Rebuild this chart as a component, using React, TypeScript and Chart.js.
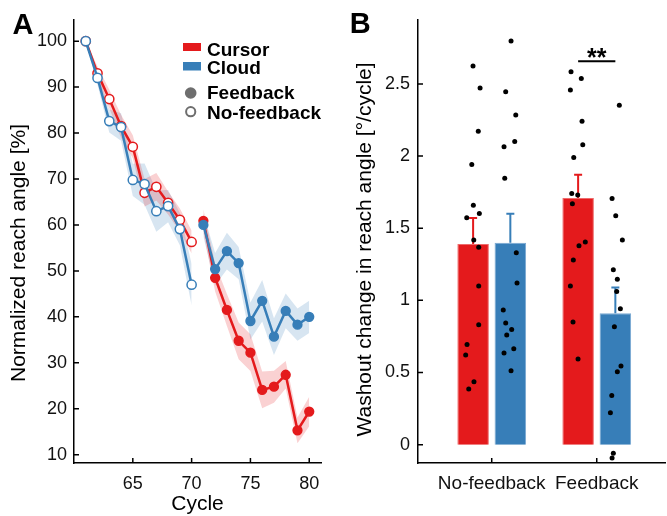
import React, { useEffect, useRef } from 'react';
import { Chart, registerables } from 'chart.js';

Chart.register(...registerables);

const FONT = '"Liberation Sans", Arial, Helvetica, sans-serif';
const RED = '#E41A1C';
const BLUE = '#377EB8';
const RED_BAND = 'rgba(228,26,28,0.2)';
const BLUE_BAND = 'rgba(55,126,184,0.2)';
const RED_EDGE = '#EE6A6B';
const BLUE_EDGE = '#79A8D2';

// ---------- Panel A data ----------
const cyclesNoFeedback = [61, 62, 63, 64, 65, 66, 67, 68, 69, 70];
const cyclesFeedback = [71, 72, 73, 74, 75, 76, 77, 78, 79, 80];
const cursorNoFeedback = [100, 93.0, 87.4, 81.5, 77.0, 67.0, 68.3, 64.8, 61.1, 56.3];
const cloudNoFeedback = [100, 92.0, 82.6, 81.3, 69.8, 68.9, 63.0, 64.1, 59.1, 47.0];
const cursorFeedback = [60.9, 48.5, 41.5, 34.8, 32.2, 24.1, 24.8, 27.4, 15.3, 19.4];
const cloudFeedback = [60.0, 50.4, 54.3, 51.7, 39.1, 43.5, 35.7, 41.3, 38.3, 40.0];
const cursorNoFeedbackSem = [0, 1.5, 2, 2.5, 2.5, 3, 3, 2.5, 2.5, 2.5];
const cloudNoFeedbackSem = [0, 1.5, 2.5, 3, 3.5, 4.5, 4.5, 3.5, 3.5, 4.5];
const cursorFeedbackSem = [2.5, 3, 3.5, 4, 4, 4, 3.5, 3, 2.8, 3.2];
const cloudFeedbackSem = [2.5, 3.5, 4, 3.5, 4, 4.5, 4, 3.8, 3.5, 3.5];
const cycleTicks = [65, 70, 75, 80];
const reachTicks = [10, 20, 30, 40, 50, 60, 70, 80, 90, 100];
const cursorLabel = 'Cursor';
const cloudLabel = 'Cloud';
const markerLabels = ['Feedback', 'No-feedback'];

// ---------- Panel B data ----------
const conditions = ['No-feedback', 'Feedback'];
const cursorWashout = [1.39, 1.71];
const cursorWashoutSem = [0.18, 0.16];
const cloudWashout = [1.40, 0.91];
const cloudWashoutSem = [0.2, 0.18];
const washoutTicks = [0, 0.5, 1, 1.5, 2, 2.5];
const cursorNoFbDots = [2.625, 2.472, 2.172, 1.941, 1.66, 1.572, 1.602, 1.418, 1.369, 1.099, 0.831, 0.695, 0.621, 0.436, 0.386];
const cursorNoFbJitter = [-0.178, -0.111, -0.128, -0.19, -0.175, -0.238, -0.118, -0.171, -0.124, -0.124, -0.124, -0.235, -0.248, -0.169, -0.219];
const cloudNoFbDots = [2.798, 2.445, 2.285, 2.064, 2.101, 1.847, 1.33, 1.12, 0.933, 0.843, 0.799, 0.76, 0.635, 0.665, 0.512];
const cloudNoFbJitter = [0.184, 0.133, 0.229, 0.117, 0.219, 0.124, 0.234, 0.241, 0.11, 0.133, 0.19, 0.143, 0.117, 0.21, 0.184];
const cursorFbDots = [2.585, 2.537, 2.458, 2.242, 2.078, 1.99, 1.74, 1.731, 1.669, 1.404, 1.378, 1.279, 1.099, 0.85, 0.593];
const cursorFbJitter = [-0.245, -0.147, -0.251, -0.14, -0.133, -0.219, -0.238, -0.181, -0.232, -0.109, -0.169, -0.223, -0.251, -0.226, -0.178];
const cloudFbDots = [2.352, 1.706, 1.586, 1.418, 1.212, 1.147, 1.062, 0.942, 0.817, 0.545, 0.506, 0.341, 0.222, -0.06, -0.092];
const cloudFbJitter = [0.215, 0.146, 0.181, 0.244, 0.158, 0.196, 0.19, 0.225, 0.168, 0.231, 0.196, 0.143, 0.13, 0.158, 0.146];
const significanceLevel = 2.657;
const significanceText = '**';

const xTitleA = 'Cycle';
const yTitleA = 'Normalized reach angle [%]';
const yTitleB = 'Washout change in reach angle [°/cycle]';

function drawInwardTicks(chart: any) {
  const { ctx, chartArea } = chart;
  const sx = chart.scales.x;
  const sy = chart.scales.y;
  ctx.save();
  ctx.strokeStyle = '#000';
  ctx.lineWidth = 1.5;
  ctx.beginPath();
  sx.ticks.forEach((t: any) => {
    const p = sx.getPixelForValue(t.value);
    ctx.moveTo(p, chartArea.bottom);
    ctx.lineTo(p, chartArea.bottom - 5);
  });
  sy.ticks.forEach((t: any) => {
    const p = sy.getPixelForValue(t.value);
    ctx.moveTo(chartArea.left, p);
    ctx.lineTo(chartArea.left + 5, p);
  });
  ctx.stroke();
  ctx.restore();
}

function drawRotated(ctx: any, text: string, x: number, y: number, size: number) {
  ctx.save();
  ctx.translate(x, y);
  ctx.rotate(-Math.PI / 2);
  ctx.font = `${size}px ${FONT}`;
  ctx.fillStyle = '#000';
  ctx.textAlign = 'center';
  ctx.textBaseline = 'middle';
  ctx.fillText(text, 0, 0);
  ctx.restore();
}

const panelAPlugin = {
  id: 'panelADecor',
  afterDraw(chart: any) {
    const { ctx, chartArea } = chart;
    drawInwardTicks(chart);
    ctx.save();
    ctx.fillStyle = '#000';
    ctx.font = `bold 29px ${FONT}`;
    ctx.textAlign = 'left';
    ctx.textBaseline = 'alphabetic';
    ctx.fillText('A', 12.5, 34.3);
    ctx.font = `21px ${FONT}`;
    ctx.textAlign = 'center';
    ctx.textBaseline = 'middle';
    ctx.fillText(xTitleA, (chartArea.left + chartArea.right) / 2, 504);
    ctx.restore();
    drawRotated(ctx, yTitleA, 19.7, 253, 21);
    // legend
    ctx.save();
    ctx.font = `bold 19px ${FONT}`;
    ctx.textAlign = 'left';
    ctx.textBaseline = 'alphabetic';
    ctx.fillStyle = RED;
    ctx.fillRect(183, 43, 18, 8);
    ctx.fillStyle = BLUE;
    ctx.fillRect(183, 62, 18, 8.5);
    ctx.fillStyle = '#000';
    ctx.fillText(cursorLabel, 207, 55.7);
    ctx.fillText(cloudLabel, 207, 74);
    ctx.fillStyle = '#6e6e6e';
    ctx.beginPath();
    ctx.arc(190.7, 93, 5.8, 0, Math.PI * 2);
    ctx.fill();
    ctx.beginPath();
    ctx.arc(190.7, 111.7, 4.6, 0, Math.PI * 2);
    ctx.fillStyle = '#fff';
    ctx.fill();
    ctx.lineWidth = 2;
    ctx.strokeStyle = '#6e6e6e';
    ctx.stroke();
    ctx.fillStyle = '#000';
    ctx.fillText(markerLabels[0], 207, 99.3);
    ctx.fillText(markerLabels[1], 207, 119.3);
    ctx.restore();
  },
};

const panelBPlugin = {
  id: 'panelBDecor',
  afterDatasetDraw(chart: any, args: any) {
    if (args.index > 1) return;
    const sems = args.index === 0 ? cursorWashoutSem : cloudWashoutSem;
    const means = args.index === 0 ? cursorWashout : cloudWashout;
    const color = args.index === 0 ? RED : BLUE;
    const sy = chart.scales.y;
    const { ctx } = chart;
    ctx.save();
    ctx.strokeStyle = color;
    ctx.lineWidth = 2;
    args.meta.data.forEach((bar: any, i: number) => {
      const top = sy.getPixelForValue(means[i] + sems[i]);
      ctx.beginPath();
      ctx.moveTo(bar.x, bar.y);
      ctx.lineTo(bar.x, top);
      ctx.moveTo(bar.x - 4, top);
      ctx.lineTo(bar.x + 4, top);
      ctx.stroke();
    });
    ctx.restore();
  },
  afterDraw(chart: any) {
    const { ctx } = chart;
    drawInwardTicks(chart);
    ctx.save();
    ctx.fillStyle = '#000';
    ctx.font = `bold 29px ${FONT}`;
    ctx.textAlign = 'left';
    ctx.textBaseline = 'alphabetic';
    ctx.fillText('B', 9.7, 33.3);
    const sy = chart.scales.y;
    const x0 = chart.getDatasetMeta(0).data[1].x;
    const x1 = chart.getDatasetMeta(1).data[1].x;
    const y = sy.getPixelForValue(significanceLevel);
    ctx.strokeStyle = '#000';
    ctx.lineWidth = 2;
    ctx.beginPath();
    ctx.moveTo(x0, y);
    ctx.lineTo(x1, y);
    ctx.stroke();
    ctx.font = `bold 25px ${FONT}`;
    ctx.textAlign = 'center';
    ctx.fillText(significanceText, (x0 + x1) / 2, 66);
    ctx.restore();
    drawRotated(ctx, yTitleB, 25.3, 249.5, 21);
  },
};

function axisBase(ticks: number[], size: number, padding: number) {
  return {
    type: 'linear' as const,
    offset: false,
    grid: { display: false, drawTicks: false },
    border: { display: true, color: '#000', width: 1.5 },
    ticks: {
      font: { size, family: FONT },
      color: '#111',
      padding,
      autoSkip: false,
      maxRotation: 0,
      callback: (v: any) => String(v),
    },
    afterBuildTicks: (s: any) => {
      s.ticks = ticks.map((v) => ({ value: v }));
    },
  };
}

function pts(xs: number[], ys: number[]) {
  return xs.map((x, i) => ({ x, y: ys[i] }));
}

function band(xs: number[], mean: number[], sem: number[], color: string) {
  return [
    {
      data: xs.map((x, i) => ({ x, y: mean[i] + sem[i] })),
      borderWidth: 0,
      pointRadius: 0,
      fill: false,
      order: 5,
    },
    {
      data: xs.map((x, i) => ({ x, y: mean[i] - sem[i] })),
      borderWidth: 0,
      pointRadius: 0,
      fill: '-1',
      backgroundColor: color,
      order: 5,
    },
  ];
}

function line(xs: number[], ys: number[], color: string, open: boolean, order: number) {
  return {
    data: pts(xs, ys),
    borderColor: color,
    borderWidth: 2.5,
    pointRadius: open ? 4.6 : 4.4,
    pointBorderWidth: 1.5,
    pointBackgroundColor: open ? '#fff' : color,
    pointBorderColor: color,
    fill: false,
    order,
  };
}

function dots(cat: number, jitter: number[], ys: number[]) {
  return {
    type: 'scatter' as const,
    data: ys.map((y, i) => ({ x: cat + jitter[i], y })),
    pointRadius: 2.5,
    pointBorderWidth: 0,
    pointBackgroundColor: '#000',
    showLine: false,
    order: 0,
  };
}

export default function App() {
  const refA = useRef<HTMLCanvasElement>(null);
  const refB = useRef<HTMLCanvasElement>(null);

  useEffect(() => {
    const chartA = new Chart(refA.current as HTMLCanvasElement, {
      type: 'line',
      data: {
        datasets: [
          line(cyclesNoFeedback, cloudNoFeedback, BLUE, true, 0),
          line(cyclesFeedback, cloudFeedback, BLUE, false, 0),
          line(cyclesNoFeedback, cursorNoFeedback, RED, true, 1),
          line(cyclesFeedback, cursorFeedback, RED, false, 1),
          ...band(cyclesNoFeedback, cursorNoFeedback, cursorNoFeedbackSem, RED_BAND),
          ...band(cyclesNoFeedback, cloudNoFeedback, cloudNoFeedbackSem, BLUE_BAND),
          ...band(cyclesFeedback, cursorFeedback, cursorFeedbackSem, RED_BAND),
          ...band(cyclesFeedback, cloudFeedback, cloudFeedbackSem, BLUE_BAND),
        ] as any,
      },
      options: {
        animation: false,
        responsive: false,
        events: [],
        layout: { padding: { top: 20, right: 19, bottom: 0, left: 0 }, autoPadding: false },
        plugins: { legend: { display: false }, tooltip: { enabled: false } },
        scales: {
          x: { ...axisBase(cycleTicks, 18, 10), min: 60, max: 81, afterFit: (s: any) => { s.height = 53; } },
          y: { ...axisBase(reachTicks, 18, 7), min: 8.2, max: 104.6, afterFit: (s: any) => { s.width = 74; } },
        } as any,
      },
      plugins: [panelAPlugin],
    });

    const chartB = new Chart(refB.current as HTMLCanvasElement, {
      type: 'bar',
      data: {
        datasets: [
          {
            type: 'bar',
            label: cursorLabel,
            data: pts([0, 1], cursorWashout),
            backgroundColor: RED,
            borderColor: RED_EDGE,
            borderWidth: 1,
            categoryPercentage: 0.709,
            barPercentage: 0.847,
            order: 1,
          },
          {
            type: 'bar',
            label: cloudLabel,
            data: pts([0, 1], cloudWashout),
            backgroundColor: BLUE,
            borderColor: BLUE_EDGE,
            borderWidth: 1,
            categoryPercentage: 0.709,
            barPercentage: 0.847,
            order: 1,
          },
          dots(0, cursorNoFbJitter, cursorNoFbDots),
          dots(0, cloudNoFbJitter, cloudNoFbDots),
          dots(1, cursorFbJitter, cursorFbDots),
          dots(1, cloudFbJitter, cloudFbDots),
        ] as any,
      },
      options: {
        animation: false,
        responsive: false,
        events: [],
        layout: { padding: { top: 20, right: 2, bottom: 0, left: 0 }, autoPadding: false },
        plugins: { legend: { display: false }, tooltip: { enabled: false } },
        scales: {
          x: {
            ...axisBase([0, 1], 19, 9),
            min: -0.702,
            max: 1.65,
            ticks: {
              font: { size: 19, family: FONT },
              color: '#111',
              padding: 9,
              autoSkip: false,
              maxRotation: 0,
              callback: (v: any) => conditions[Math.round(Number(v))] ?? '',
            },
            afterFit: (s: any) => { s.height = 53; },
          },
          y: { ...axisBase(washoutTicks, 18, 8), min: -0.127, max: 2.943, afterFit: (s: any) => { s.width = 78; } },
        } as any,
      },
      plugins: [panelBPlugin],
    });

    return () => {
      chartA.destroy();
      chartB.destroy();
    };
  }, []);

  return (
    <div style={{ position: 'absolute', left: 0, top: 0, width: 667, height: 516, background: '#fff' }}>
      <canvas ref={refA} width={340} height={516} style={{ position: 'absolute', left: 0, top: 0 }} />
      <canvas ref={refB} width={327} height={516} style={{ position: 'absolute', left: 340, top: 0 }} />
    </div>
  );
}
